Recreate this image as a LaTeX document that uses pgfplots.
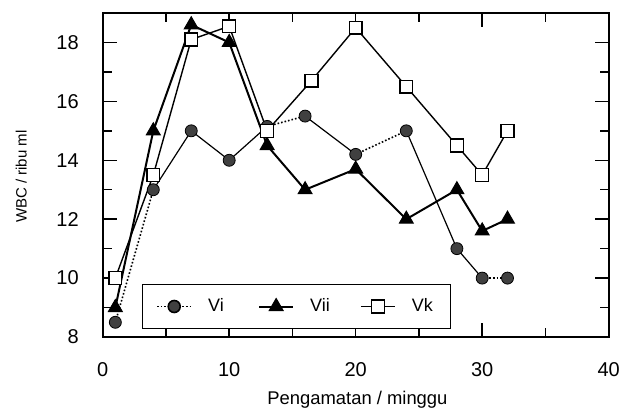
\documentclass[border=0pt]{standalone}
\usepackage{fontspec}
\setmainfont{Liberation Sans}
\usepackage{pgfplots}
\pgfplotsset{compat=1.18}
\begin{document}
\begin{tikzpicture}
\begin{axis}[
  scale only axis, width=253pt, height=162pt,
  xmin=0, xmax=40, ymin=8, ymax=19,
  xtick={0,10,20,30,40}, minor x tick num=1,
  ytick={8,10,...,18}, minor y tick num=1,
  tick align=inside,
  major tick length=7pt, minor tick length=4.5pt,
  axis line style={line width=0.9pt},
  every tick/.style={black, line width=0.7pt},
  /pgf/number format/assume math mode=true,
  tick label style={font=\fontsize{10}{12}\selectfont},
  xticklabel style={yshift=-9pt},
  yticklabel style={xshift=-8.5pt},
  xlabel={Pengamatan / minggu}, ylabel={WBC / ribu ml},
  xlabel style={font=\fontsize{9.2}{11}\selectfont, at={(axis description cs:0.5035,0)}, anchor=north, yshift=-23.5pt},
  ylabel style={font=\fontsize{7.5}{9}\selectfont, at={(axis description cs:-0.161,0.495)}, anchor=center},
  legend columns=3,
  legend style={at={(0.077,0.024)}, anchor=south west, font=\fontsize{9}{11}\selectfont, draw=black, line width=0.7pt, inner xsep=7pt, inner ysep=5pt, /tikz/every even column/.append style={column sep=6pt}},
]
\coordinate (sw) at (rel axis cs:0,0);
% Vi solid segments
\addplot[forget plot, black, line width=0.6pt] coordinates {(4,13) (7,15) (10,14) (13,15.15)};
\addplot[forget plot, black, line width=0.6pt] coordinates {(16,15.5) (20,14.2)};
\addplot[forget plot, black, line width=0.6pt] coordinates {(24,15) (28,11) (30,10)};
% Vi dotted segments
\addplot[forget plot, black, densely dotted, line width=0.8pt] coordinates {(1,8.5) (4,13)};
\addplot[forget plot, black, densely dotted, line width=0.8pt] coordinates {(13,15.15) (16,15.5)};
\addplot[forget plot, black, densely dotted, line width=0.8pt] coordinates {(20,14.2) (24,15)};
\addplot[forget plot, black, densely dotted, line width=0.8pt] coordinates {(30,10) (32,10)};
% Vi marks
\addplot[forget plot, only marks, mark=*, mark size=3pt, mark options={fill=black!75, draw=black}] coordinates {
(1,8.5) (4,13) (7,15) (10,14) (13,15.15) (16,15.5) (20,14.2) (24,15) (28,11) (30,10) (32,10)};
% Vii
\addplot[forget plot, black, line width=1pt, mark=triangle*, mark size=4pt, mark options={fill=black, draw=black, line width=0.5pt}] coordinates {
(1,9) (4,15) (7,18.6) (10,18) (13,14.5) (16,13) (20,13.7) (24,12) (28,13) (30,11.6) (32,12)};
% Vk
\addplot[forget plot, black, line width=0.7pt, mark=square*, mark size=3.2pt, mark options={fill=white, draw=black, line width=0.7pt}] coordinates {
(1,10) (4,13.5) (7,18.1) (10,18.55) (13,15) (16.5,16.7) (20,18.5) (24,16.5) (28,14.5) (30,13.5) (32,15)};
\addlegendimage{black, densely dotted, line width=0.8pt, mark=*, mark size=3pt, mark options={solid, fill=black!75, draw=black}}
\addlegendentry{\hspace*{6pt}\makebox[17pt][l]{Vi}}
\addlegendimage{black, line width=1pt, mark=triangle*, mark size=4pt, mark options={fill=black, draw=black, line width=0.5pt}}
\addlegendentry{\hspace*{6pt}\makebox[17pt][l]{Vii}}
\addlegendimage{black, line width=0.7pt, mark=square*, mark size=3.2pt, mark options={fill=white, draw=black, line width=0.7pt}}
\addlegendentry{\hspace*{6pt}Vk}
\end{axis}
\pgfresetboundingbox
\path (sw) ++(-51.35pt,-36pt) rectangle ++(310.5pt,204.5pt);
\end{tikzpicture}
\end{document}
